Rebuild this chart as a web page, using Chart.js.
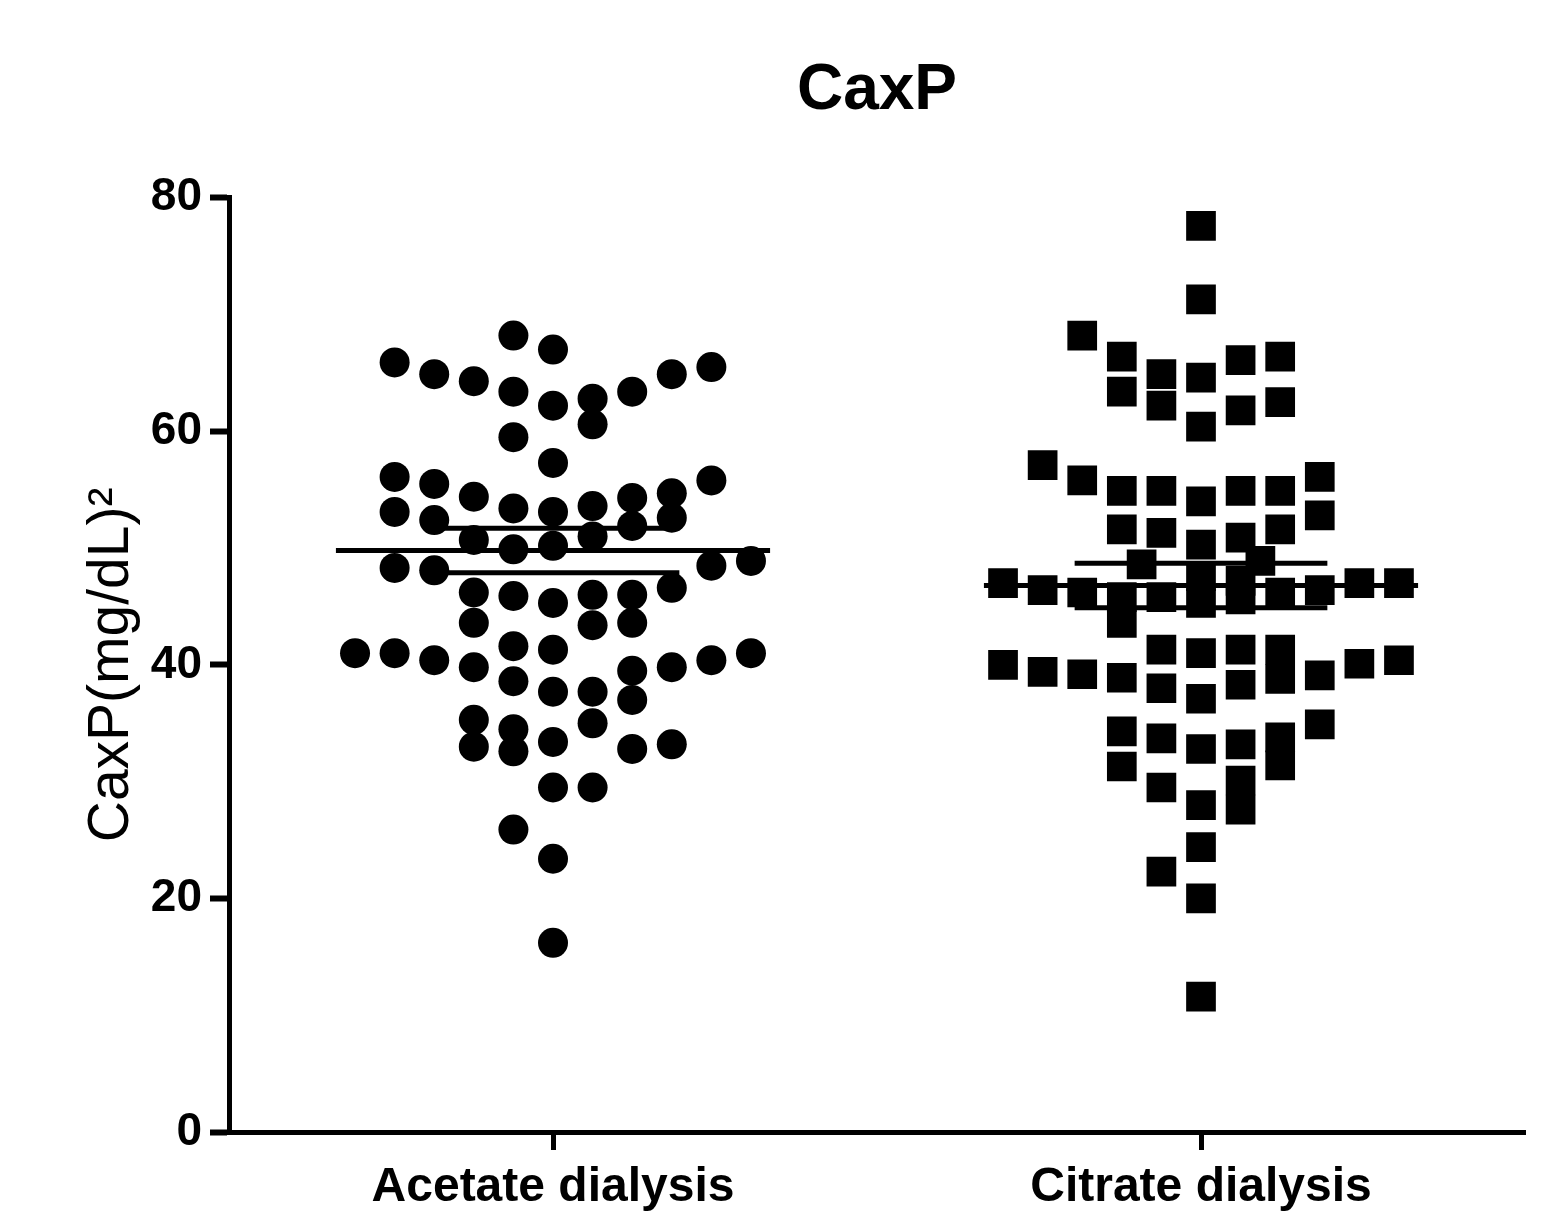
<!DOCTYPE html>
<html>
<head>
<meta charset="utf-8">
<script src="https://cdn.jsdelivr.net/npm/chart.js@4.4.0/dist/chart.umd.min.js"></script>
<style>
html,body{margin:0;padding:0;background:#fff;}
#wrap{width:1552px;height:1225px;}
</style>
</head>
<body>
<div id="wrap"><canvas id="c" width="1552" height="1225"></canvas></div>
<script>
// ---------- data ----------
const chartTitle = 'CaxP';
const yAxisTitle = 'CaxP(mg/dL)\u00B2';
const categories = ['Acetate dialysis', 'Citrate dialysis'];
const yTicks = [0, 20, 40, 60, 80];

// Acetate dialysis group: values and their scatter-column rank (beeswarm jitter)
const acetateValues = [
  68.2, 67.0, 65.9, 65.5, 64.9, 64.9, 64.3, 63.4, 63.4, 62.8,
  62.2, 60.6, 59.5, 57.3, 56.1, 55.8, 55.5, 54.7, 54.4, 54.3,
  53.6, 53.4, 53.1, 53.1, 52.6, 52.4, 51.9, 51.0, 50.7, 50.2,
  49.9, 48.9, 48.5, 48.3, 48.1, 46.6, 46.2, 45.9, 46.0, 46.0,
  45.3, 43.6, 43.4, 43.6, 41.6, 41.3, 41.0, 41.0, 41.0, 40.4,
  40.4, 39.8, 39.8, 39.5, 38.6, 37.7, 37.7, 37.0, 35.3, 35.0,
  34.5, 33.4, 33.2, 33.0, 32.8, 32.6, 29.5, 29.5, 25.9, 23.4,
  16.2
];
const acetateSpread = [
  -1, 0, -4, 4, -3, 3, -2, -1, 2, 1,
  0, 1, -1, 0, -4, 4, -3, 3, -2, 2,
  1, -1, 0, -4, 3, -3, 2, 1, -2, 0,
  -1, 5, 4, -4, -3, 3, -2, -1, 1, 2,
  0, -2, 1, 2, -1, 0, -5, -4, 5, -3,
  4, -2, 3, 2, -1, 0, 1, 2, -2, 1,
  -1, 0, 3, -2, 2, -1, 0, 1, -1, 0,
  0
];

// Citrate dialysis group
const citrateValues = [
  77.6, 71.3, 68.2, 66.4, 66.4, 66.1, 64.9, 64.6, 63.4, 62.5,
  62.2, 61.8, 60.4, 57.1, 56.1, 55.8, 54.9, 54.9, 54.9, 54.9,
  54.0, 52.8, 51.6, 51.6, 51.3, 50.9, 50.3, 48.9, 48.6, 47.0,
  47.0, 47.0, 46.4, 46.2, 45.8, 45.8, 47.6, 45.3, 47.2, 45.6,
  46.2, 46.4, 43.6, 40.0, 39.4, 39.2, 38.9, 41.3, 38.0, 41.0,
  37.1, 41.3, 38.3, 41.3, 38.8, 39.1, 40.1, 40.4, 34.3, 31.3,
  33.7, 29.5, 32.8, 33.2, 33.8, 31.4, 34.9, 28.0, 30.1, 27.6,
  24.4, 22.3, 20.0, 11.6
];
const citrateSpread = [
  0, 0, -3, -2, 2, 1, -1, 0, -2, 2,
  -1, 1, 0, -4, 3, -3, -2, -1, 1, 2,
  0, 3, -2, 2, -1, 1, 0, 1.5, -1.5, -5,
  4, 5, -4, -3, -2, -1, 0, 0, 1, 1,
  2, 3, -2, -5, -4, -3, -2, -1, -1, 0,
  0, 1, 1, 2, 2, 3, 4, 5, -2, -2,
  -1, -1, 0, 1, 2, 2, 3, 0, 1, 1,
  0, -1, 0, 0
];

const groupMean = [49.8, 46.8];
const groupSEM = [1.9, 1.9];

// ---------- chart ----------
Chart.defaults.font.family = "'Liberation Sans', Arial, Helvetica, sans-serif";
Chart.defaults.color = '#000';

const COL = 0.0611;      // horizontal spacing of swarm columns (x units)
const MEAN_HALF = 0.335; // half length of mean bar
const SEM_HALF = 0.195;  // half length of SEM bars

function swarm(values, spread, g) {
  return values.map((v, i) => ({ x: g + 0.5 + spread[i] * COL, y: v }));
}
function hbar(g, y, half) {
  return [{ x: g + 0.5 - half, y: y }, { x: g + 0.5 + half, y: y }];
}
const lineStyle = {
  showLine: true, borderColor: '#000', borderWidth: 5,
  pointRadius: 0, pointHoverRadius: 0, order: 0
};
const datasets = [];
groupMean.forEach((m, g) => {
  datasets.push(Object.assign({ label: 'mean' + g, data: hbar(g, m, MEAN_HALF) }, lineStyle));
  datasets.push(Object.assign({ label: 'semU' + g, data: hbar(g, m + groupSEM[g], SEM_HALF) }, lineStyle));
  datasets.push(Object.assign({ label: 'semL' + g, data: hbar(g, m - groupSEM[g], SEM_HALF) }, lineStyle));
});
datasets.push({
  label: categories[0], data: swarm(acetateValues, acetateSpread, 0),
  pointStyle: 'circle', pointRadius: 15, pointHoverRadius: 15,
  backgroundColor: '#000', borderWidth: 0, order: 1
});
datasets.push({
  label: categories[1], data: swarm(citrateValues, citrateSpread, 1),
  pointStyle: 'rect', pointRadius: 21, pointHoverRadius: 21,
  backgroundColor: '#000', borderWidth: 0, order: 1
});

new Chart(document.getElementById('c'), {
  type: 'scatter',
  data: { datasets },
  options: {
    responsive: false,
    animation: false,
    events: [],
    layout: { padding: { left: 0, right: 27, top: 0, bottom: 0 } },
    plugins: {
      legend: { display: false },
      tooltip: { enabled: false },
      title: {
        display: true, text: chartTitle, fullSize: false,
        color: '#000',
        font: { size: 64, weight: 'bold' },
        padding: { top: 53, bottom: 68 }
      }
    },
    scales: {
      x: {
        type: 'linear', min: 0, max: 2,
        afterBuildTicks: s => { s.ticks = categories.map((c, i) => ({ value: i + 0.5 })); },
        afterFit: s => { s.height = 93; },
        ticks: {
          callback: (v, i) => categories[i],
          font: { size: 48, weight: 'bold' }, color: '#000',
          padding: 9, maxRotation: 0, autoSkip: false
        },
        grid: {
          display: true, drawOnChartArea: false, drawTicks: true,
          tickLength: 18, tickWidth: 5, tickColor: '#000'
        },
        border: { display: true, color: '#000', width: 5 }
      },
      y: {
        type: 'linear', min: 0, max: 80,
        afterBuildTicks: s => { s.ticks = yTicks.map(v => ({ value: v })); },
        afterFit: s => { s.width = 229; },
        ticks: {
          font: { size: 46, weight: 'bold' }, color: '#000', padding: 8
        },
        grid: {
          display: true, drawOnChartArea: false, drawTicks: true,
          tickLength: 19, tickWidth: 6, tickColor: '#000'
        },
        border: { display: true, color: '#000', width: 5 },
        title: {
          display: true, text: yAxisTitle, color: '#000',
          font: { size: 57, weight: 'normal' },
          padding: { top: 78, bottom: 0 }
        }
      }
    }
  }
});
</script>
</body>
</html>
